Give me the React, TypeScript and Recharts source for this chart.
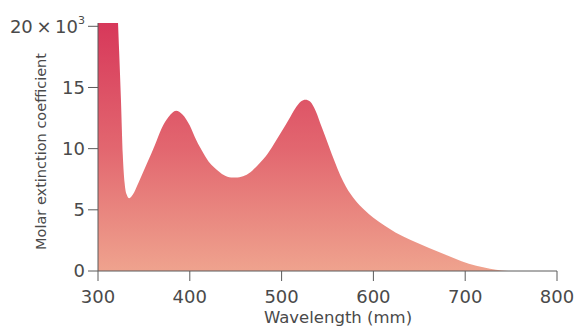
import {
  Area,
  AreaChart,
  Label,
  XAxis,
  YAxis,
} from "recharts";

// wavelength (nm) and molar extinction coefficient (x10^3)
const wavelengths = [
  300, 315, 321, 323, 325, 327, 329, 331, 334, 338, 344, 354, 362, 369, 377,
  385, 392, 400, 407, 415, 422, 429, 437, 445, 452, 460, 468, 476, 483, 491,
  500, 508, 515, 521, 526, 531, 537, 544, 551, 558, 564, 570, 580, 590, 600,
  612, 624, 640, 660, 680, 696, 712, 727, 740, 747,
];
const coefficients = [
  26, 25, 21.5, 18, 14, 9.5, 7.2, 6.3, 5.95, 6.25, 7.2, 8.9, 10.3, 11.6, 12.6,
  13.1, 12.8, 11.9, 10.7, 9.6, 8.8, 8.3, 7.85, 7.65, 7.65, 7.8, 8.2, 8.8, 9.4,
  10.3, 11.4, 12.4, 13.3, 13.85, 14.0, 13.85, 13.1, 11.7, 10.3, 8.9, 7.8, 6.9,
  5.8, 5.0, 4.35, 3.72, 3.15, 2.55, 1.9, 1.28, 0.8, 0.42, 0.18, 0.04, 0,
];
const xTicks = [300, 400, 500, 600, 700, 800];
const yTicks = [0, 5, 10, 15, 20];

const data = wavelengths.map((wl, i) => ({ wl, eps: coefficients[i] }));

const FONT = "'DejaVu Sans', sans-serif";
const TEXT = "#4a4a4a";
const LINE = "#5a5a5a";

function YTick(props: any) {
  const { x, y, payload } = props;
  if (payload.value === 20) {
    return (
      <text x={x} y={y} dy="0.355em" textAnchor="end" fill={TEXT}
        fontFamily={FONT} fontSize={18}>
        20{"\u2009×\u2009"}10
        <tspan fontSize={11} dy={-9}>3</tspan>
      </text>
    );
  }
  return (
    <text x={x} y={y} dy="0.355em" textAnchor="end" fill={TEXT}
      fontFamily={FONT} fontSize={18}>
      {payload.value}
    </text>
  );
}

export default function App() {
  return (
    <div style={{ position: "absolute", left: 0, top: 0, background: "#fff" }}>
      <AreaChart
        width={587}
        height={328}
        data={data}
        margin={{ top: 23, right: 30, bottom: 7, left: 8 }}
      >
        <defs>
          <linearGradient id="fillGrad" gradientUnits="userSpaceOnUse"
            x1="0" y1="23" x2="0" y2="271">
            <stop offset="0%" stopColor="#d7385a" />
            <stop offset="50%" stopColor="#e2666f" />
            <stop offset="100%" stopColor="#efa38e" />
          </linearGradient>
        </defs>
        <Area
          type="monotone"
          dataKey="eps"
          stroke="none"
          fill="url(#fillGrad)"
          fillOpacity={1}
          isAnimationActive={false}
          dot={false}
          activeDot={false}
        />
        <XAxis
          dataKey="wl"
          type="number"
          domain={[300, 800]}
          ticks={xTicks}
          height={50}
          tickSize={10}
          tickMargin={9}
          stroke={LINE}
          tick={{ fill: TEXT, fontFamily: FONT, fontSize: 18 }}
        >
          <Label
            content={() => (
              <text x={338} y={323} textAnchor="middle" fill={TEXT}
                fontFamily={FONT} fontSize={16.5}>
                Wavelength (mm)
              </text>
            )}
          />
        </XAxis>
        <XAxis
          xAxisId="top"
          orientation="top"
          dataKey="wl"
          type="number"
          domain={[300, 800]}
          height={0}
          tick={false}
          tickLine={false}
          stroke={LINE}
        />
        <YAxis
          type="number"
          domain={[0, 20.27]}
          allowDataOverflow
          ticks={yTicks}
          width={90}
          tickSize={10}
          tickMargin={3}
          stroke={LINE}
          tick={YTick}
        >
          <Label
            content={() => (
              <text x={45.5} y={151.5} transform="rotate(-90 45.5 151.5)"
                textAnchor="middle" fill={TEXT} fontFamily={FONT}
                fontSize={14.5}>
                Molar extinction coefficient
              </text>
            )}
          />
        </YAxis>
        <YAxis
          yAxisId="right"
          orientation="right"
          type="number"
          domain={[0, 20.27]}
          width={0}
          tick={false}
          tickLine={false}
          stroke={LINE}
        />
      </AreaChart>
    </div>
  );
}
